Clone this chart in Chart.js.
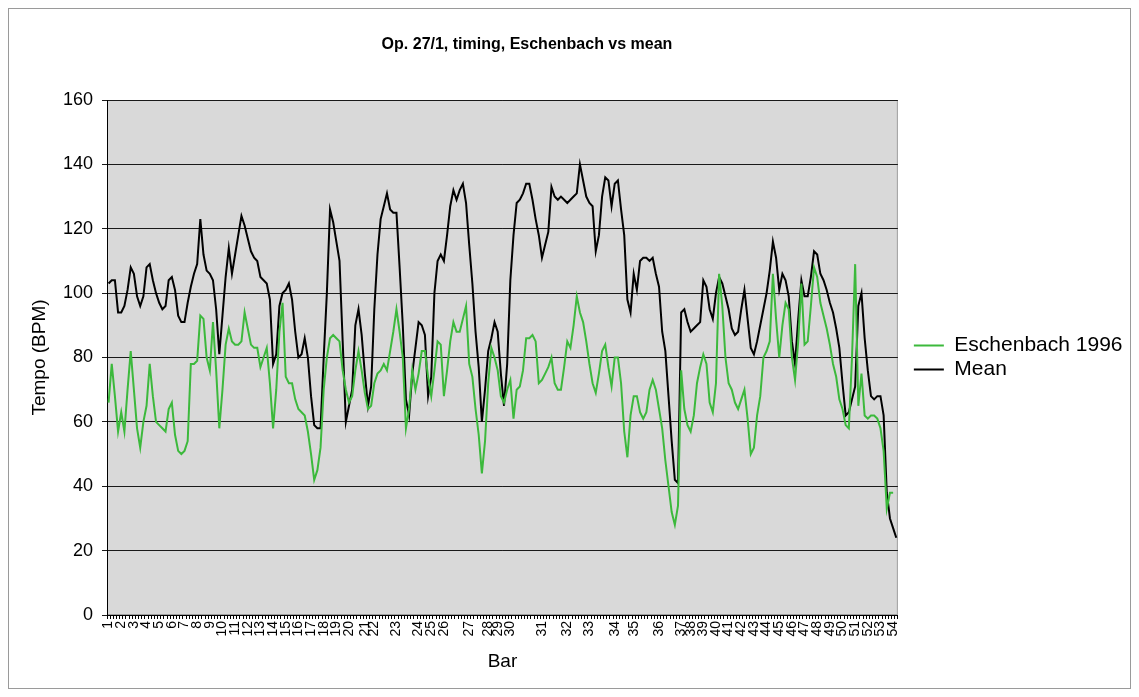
<!DOCTYPE html>
<html lang="en">
<head>
  <meta charset="UTF-8">
  <title>Op. 27/1, timing, Eschenbach vs mean</title>
  <script src="https://cdn.jsdelivr.net/npm/chart.js"></script>
  <style>
    html, body {
      margin: 0;
      padding: 0;
      background: #fff;
    }
    .chart-box {
      position: relative;
      width: 1139px;
      height: 697px;
    }
  </style>
</head>
<body>
  <div class="chart-box">
    <canvas id="chart"></canvas>
  </div>

  <script>
    // index of the first beat of each bar (bars 1..54)
    const barStarts = [
      0, 4, 8, 12, 16, 20, 24, 28, 32, 36, 40, 44, 48, 52, 56, 60, 64, 68, 72,
      76, 81, 84, 91, 98, 102, 106, 114, 120, 123, 127, 137, 145, 152, 160, 166, 174,
      181, 184, 188, 192, 196, 200, 204, 208, 212, 216, 220, 224, 228, 232, 236, 240, 244, 248
    ];

    // tempo per beat (BPM)
    const eschenbach = [
      66, 78, 68, 57, 63, 57, 70, 82, 70, 58,
      52, 60, 65, 78, 68, 60, 59, 58, 57, 64,
      66, 56, 51, 50, 51, 54, 78, 78, 79, 93,
      92, 80, 76, 91, 76, 58, 70, 84, 89, 85,
      84, 84, 85, 94, 89, 84, 83, 83, 77, 80,
      83, 72, 58, 70, 88, 97, 74, 72, 72, 67,
      64, 63, 62, 57, 50, 42, 45, 52, 70, 80,
      86, 87, 86, 85, 76, 70, 66, 68, 76, 82,
      76, 69, 64, 65, 72, 75, 76, 78, 76, 82,
      88, 95, 88, 80, 58, 64, 76, 70, 75, 82,
      82, 74, 68, 76, 85, 84, 68, 76, 85, 91,
      88, 88, 92, 96, 78, 74, 64, 56, 44, 54,
      72, 83, 80, 76, 68, 66, 70, 73, 61, 70,
      71, 76, 86, 86, 87, 85, 72, 73, 75, 77,
      80, 72, 70, 70, 77, 85, 83, 90, 99, 94,
      91, 85, 78, 72, 69, 75, 82, 84, 77, 71,
      80, 80, 72, 57, 49, 62, 68, 68, 63, 61,
      63, 70, 73, 70, 64, 58, 48, 40, 32, 28,
      34, 76, 64, 59, 57, 62, 72, 77, 81, 78,
      66, 63, 72, 106, 96, 80, 72, 70, 66, 64,
      67, 70, 61, 50, 52, 62, 68, 80, 82, 85,
      106, 92, 80, 90, 97, 95, 80, 73, 85, 103,
      84, 85, 96, 108, 105, 97, 93, 89, 84, 78,
      74, 67, 64, 59, 58, 80, 109, 65, 75, 62,
      61, 62, 62, 61, 58, 51, 33, 38, 38, null
    ];

    const mean = [
      103, 104, 104, 94, 94, 96, 101, 108, 106, 99,
      96, 99, 108, 109, 104, 100, 97, 95, 96, 104,
      105, 101, 93, 91, 91, 97, 102, 106, 109, 123,
      112, 107, 106, 104, 95, 81, 93, 105, 114, 106,
      112, 118, 124, 121, 117, 113, 111, 110, 105, 104,
      103, 98, 78, 81, 96, 100, 101, 103, 98, 88,
      80, 81, 86, 80, 68, 59, 58, 58, 80, 100,
      126, 122, 116, 110, 85, 60, 65, 70, 90, 95,
      87, 75, 65, 71, 95, 112, 123, 127, 131, 126,
      125, 125, 108, 90, 67, 62, 75, 83, 91, 90,
      87, 68, 74, 100, 110, 112, 110, 118, 127, 132,
      129, 132, 134, 128, 115, 103, 88, 77, 60, 70,
      82, 86, 91, 88, 75, 65, 78, 104, 118, 128,
      129, 131, 134, 134, 129, 123, 118, 111, 115, 119,
      133, 130, 129, 130, 129, 128, 129, 130, 131, 140,
      135, 130, 128, 127, 113, 118, 130, 136, 135, 127,
      134, 135, 126, 118, 98, 94, 106, 101, 110, 111,
      111, 110, 111, 106, 102, 88, 82, 68, 54, 42,
      41, 94, 95, 91, 88, 89, 90, 91, 104, 102,
      95, 92, 100, 105, 103, 99, 95, 89, 87, 88,
      95, 101, 92, 83, 81, 85, 90, 95, 100, 107,
      116, 111, 101, 106, 104, 99, 85, 78, 92, 104,
      99, 99, 105, 113, 112, 106, 104, 101, 97, 94,
      89, 83, 72, 62, 63, 67, 71, 96, 100, 86,
      76, 68, 67, 68, 68, 62, 38, 30, 27, 24
    ];

    // one category per beat, bar number on the first beat of each bar
    const labels = mean.map((v, i) => {
      const bar = barStarts.indexOf(i);
      return bar >= 0 ? String(bar + 1) : '';
    });

    const font = "'Liberation Sans', Arial, Helvetica, sans-serif";

    // grey plot area, outer frame and the title
    const decor = {
      id: 'decor',
      afterLayout(chart) {
        // the legend sits a little away from the plot
        chart.legend.left += 13;
        chart.legend.right += 13;
      },
      beforeDraw(chart) {
        const { ctx, chartArea: a } = chart;
        ctx.save();
        ctx.fillStyle = '#fff';
        ctx.fillRect(0, 0, chart.width, chart.height);
        ctx.strokeStyle = '#9a9a9a';
        ctx.lineWidth = 1;
        ctx.strokeRect(8.5, 8.5, chart.width - 17, chart.height - 17);
        ctx.fillStyle = '#d9d9d9';
        ctx.fillRect(a.left, a.top, a.right - a.left, a.bottom - a.top);
        ctx.strokeStyle = '#a0a0a0';
        ctx.strokeRect(a.left + 0.5, a.top + 0.5, a.right - a.left - 1, a.bottom - a.top - 1);
        ctx.restore();
      },
      afterDraw(chart) {
        const ctx = chart.ctx;
        ctx.save();
        ctx.fillStyle = '#000';
        ctx.font = 'bold 16px ' + font;
        ctx.textAlign = 'center';
        ctx.textBaseline = 'middle';
        ctx.fillText('Op. 27/1, timing, Eschenbach vs mean', 527, 45);
        ctx.restore();
      }
    };

    new Chart(document.getElementById('chart'), {
      type: 'line',
      data: {
        labels: labels,
        datasets: [
          {
            label: 'Eschenbach 1996',
            data: eschenbach,
            borderColor: '#3cb93c',
            backgroundColor: '#3cb93c',
            borderWidth: 2,
            pointRadius: 0,
            tension: 0
          },
          {
            label: 'Mean',
            data: mean,
            borderColor: '#000',
            backgroundColor: '#000',
            borderWidth: 2,
            pointRadius: 0,
            tension: 0
          }
        ]
      },
      options: {
        responsive: true,
        maintainAspectRatio: false,
        animation: false,
        layout: { padding: { top: 100, left: 10, right: 19.5, bottom: 10 } },
        plugins: {
          title: { display: false },
          tooltip: { enabled: false },
          legend: {
            position: 'right',
            fullSize: false,
            labels: {
              color: '#000',
              font: { family: font, size: 21 },
              boxWidth: 30,
              boxHeight: 2,
              padding: 3,
              generateLabels: chart =>
                Chart.defaults.plugins.legend.labels.generateLabels(chart)
                  .map(item => ({ ...item, fillStyle: item.strokeStyle, lineWidth: 0 }))
            }
          }
        },
        scales: {
          x: {
            type: 'category',
            offset: true,
            grid: {
              offset: true,
              drawOnChartArea: false,
              drawTicks: true,
              tickLength: 4,
              color: '#000'
            },
            border: { color: '#000', width: 1 },
            ticks: {
              autoSkip: false,
              minRotation: 90,
              maxRotation: 90,
              padding: 2,
              color: '#000',
              font: { family: font, size: 14 }
            },
            title: {
              display: true,
              text: 'Bar',
              color: '#000',
              font: { family: font, size: 19 },
              padding: { top: 0, bottom: 14 }
            },
            afterFit: scale => { scale.height = 72; }
          },
          y: {
            min: 0,
            max: 160,
            ticks: {
              stepSize: 20,
              padding: 9,
              color: '#000',
              font: { family: font, size: 18 }
            },
            grid: { color: '#1a1a1a', tickLength: 5 },
            border: { color: '#000', width: 1 },
            title: {
              display: true,
              text: 'Tempo (BPM)',
              color: '#000',
              font: { family: font, size: 19 },
              padding: { top: 18, bottom: 0 }
            },
            afterFit: scale => { scale.width = 97; }
          }
        }
      },
      plugins: [decor]
    });
  </script>
</body>
</html>
